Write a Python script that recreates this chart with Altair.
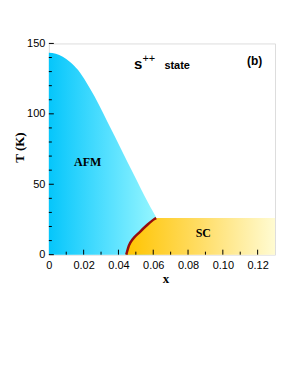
import altair as alt
import pandas as pd

# AFM phase boundary (x, T in K)
afm_x = [0.0, 0.004, 0.008, 0.012, 0.0168, 0.0215, 0.0263, 0.0311, 0.0359, 0.0407, 0.0454, 0.0502, 0.0550, 0.0617]
afm_T = [143.3, 142.6, 140.6, 137.0, 131.1, 122.5, 112.3, 100.8, 88.8, 77.0, 65.3, 53.5, 41.7, 26.5]

# SC dome boundary (x, T in K)
sc_x = [0.0445, 0.0460, 0.0483, 0.0521, 0.0560, 0.0607, 0.0617, 0.1300]
sc_T = [0.0, 6.4, 11.1, 15.9, 20.5, 25.3, 26.0, 26.0]
sc_edge_n = 7  # points of the curved (red) edge

x_major = [0.02, 0.04, 0.06, 0.08, 0.10, 0.12]
x_minor = [0.01, 0.03, 0.05, 0.07, 0.09, 0.11]
y_major = [0, 50, 100, 150]
y_minor = [10, 20, 30, 40, 60, 70, 80, 90, 110, 120, 130, 140]
x_labels = [0, 0.02, 0.04, 0.06, 0.08, 0.10, 0.12]

W, H = 227, 212

afm = pd.DataFrame({"x": afm_x, "T": afm_T, "z": 0})
sc = pd.DataFrame({"x": sc_x, "T": sc_T, "z": 0})
edge = sc.iloc[:sc_edge_n]

xs = alt.Scale(domain=[0, 0.13], nice=False, zero=False)
ys = alt.Scale(domain=[0, 150], nice=False)

xaxis = alt.Axis(values=x_labels, ticks=False, tickSize=0, domain=False, grid=False,
                 labelOverlap=False, labelFlush=False, labelBound=False,
                 labelFont="Liberation Sans", labelFontSize=11, labelColor="black", labelPadding=5,
                 labelExpr="datum.value == 0 ? '0' : format(datum.value, '.2f')",
                 title="x", titleFont="Liberation Serif", titleFontSize=13, titleFontWeight="bold",
                 titleColor="black", titleX=117, titleY=28, titleBaseline="alphabetic", titleAlign="center")
yaxis = alt.Axis(values=y_major, ticks=False, tickSize=0, domain=False, grid=False,
                 labelOverlap=False, labelFlush=False,
                 labelFont="Liberation Sans", labelFontSize=11, labelColor="black", labelPadding=4,
                 title="T (K)", titleFont="Liberation Serif", titleFontSize=13, titleFontWeight="bold",
                 titleColor="black", titleX=-29, titleY=104, titleAngle=-90,
                 titleBaseline="middle", titleAlign="center")


def X(field):
    return alt.X(field, type="quantitative", scale=xs, axis=xaxis, title="x")


def Y(field):
    return alt.Y(field, type="quantitative", scale=ys, axis=yaxis, title="T (K)")


afm_grad = alt.LinearGradient(gradient="linear", x1=0, x2=1, y1=0, y2=0,
                              stops=[alt.GradientStop(color="#05c6fb", offset=0),
                                     alt.GradientStop(color="#55e0ff", offset=0.55),
                                     alt.GradientStop(color="#95f6ff", offset=1)])
sc_grad = alt.LinearGradient(gradient="linear", x1=0, x2=1, y1=0, y2=0,
                             stops=[alt.GradientStop(color="#ffc400", offset=0),
                                    alt.GradientStop(color="#ffdd66", offset=0.5),
                                    alt.GradientStop(color="#fffbd2", offset=1)])

afm_area = alt.Chart(afm).mark_area(color=afm_grad, opacity=1, interpolate="monotone").encode(
    x=X("x"), y=Y("T"), y2="z:Q",
)
sc_area = alt.Chart(sc).mark_area(color=sc_grad, opacity=1, interpolate="monotone").encode(
    x=X("x"), y=Y("T"), y2="z:Q"
)
sc_line = alt.Chart(edge).mark_line(color="#950c0c", strokeWidth=2.5, interpolate="monotone").encode(
    x=X("x"), y=Y("T")
)


def yticks(vals, length):
    return alt.Chart(pd.DataFrame({"T": vals})).mark_rule(color="black", strokeWidth=1).encode(
        y=Y("T"), x=alt.value(0), x2=alt.value(length))


def xticks(vals, length):
    return alt.Chart(pd.DataFrame({"x": vals})).mark_rule(color="black", strokeWidth=1).encode(
        x=X("x"), y=alt.value(H), y2=alt.value(H - length))


def txt(xv, tv, s, font, size, weight, align, baseline):
    return alt.Chart(pd.DataFrame({"x": xv, "T": tv, "t": s})).mark_text(
        font=font, fontSize=size, fontWeight=weight, color="black",
        align=align, baseline=baseline).encode(x=X("x"), y=Y("T"), text="t:N")


lab = txt([0.0223, 0.0888], [65.5, 15.4], ["AFM", "SC"], "Liberation Serif", 12, "bold", "center", "middle")
state_s = txt([0.0490], [131.6], ["s"], "Liberation Sans", 15, "bold", "left", "alphabetic")
state_pp = txt([0.0538], [136.5], ["++"], "Liberation Sans", 11, "normal", "left", "alphabetic")
state_w = txt([0.0664], [131.6], ["state"], "Liberation Sans", 11, "bold", "left", "alphabetic")
panel = txt([0.1183], [135.0], ["(b)"], "Liberation Sans", 12, "bold", "center", "alphabetic")

chart = alt.layer(
    afm_area, sc_area, sc_line,
    yticks(y_major, 5), yticks(y_minor, 3), xticks(x_major, 5), xticks(x_minor, 3),
    lab, state_s, state_pp, state_w, panel,
).properties(
    width=W, height=H,
    autosize=alt.AutoSizeParams(type="none"),
    padding={"left": 41, "top": 35, "right": 8, "bottom": 60},
).configure_view(stroke="black", strokeWidth=1.5).configure(background="white")

chart.save("out.html", embed_options={"renderer": "svg", "actions": False})
